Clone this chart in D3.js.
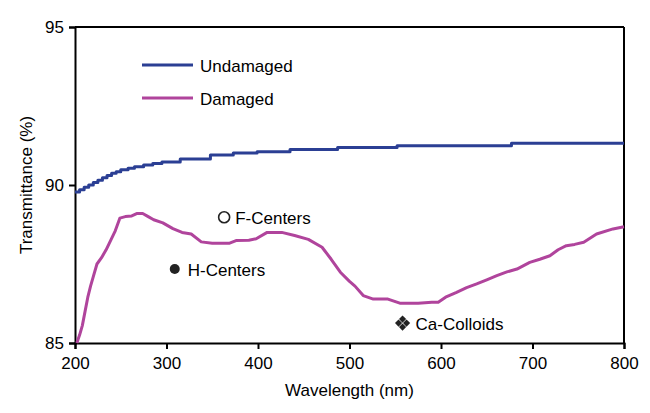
<!DOCTYPE html>
<html>
<head>
<meta charset="utf-8">
<script src="https://cdn.jsdelivr.net/npm/d3@7"></script>
<style>
  html, body { margin: 0; padding: 0; background: #fff; }
  svg { display: block; font-family: "Liberation Sans", Arial, Helvetica, sans-serif; }
</style>
</head>
<body>
<svg id="chart" width="650" height="413"></svg>
<script>
// ---------- data ----------
const xTicks = [200, 300, 400, 500, 600, 700, 800];
const yTicks = [85, 90, 95];
const seriesNames = ["Undamaged", "Damaged"];
const seriesColors = ["#2b3f94", "#b0449c"];

// Undamaged (stepped)
const undamagedWl  = [200, 205, 210, 215, 220, 225, 230, 235, 240, 245, 250, 258, 265, 275, 285, 295, 315, 348, 373, 399, 435, 487, 552, 677, 800];
const undamagedVal = [89.78, 89.85, 89.93, 90.0, 90.08, 90.15, 90.23, 90.3, 90.37, 90.42, 90.48, 90.53, 90.58, 90.63, 90.68, 90.73, 90.82, 90.95, 91.01, 91.05, 91.12, 91.19, 91.24, 91.32, 91.32];

// Damaged
const damagedWl  = [202, 205, 208, 211, 214, 217, 220, 224, 229, 234, 239, 244, 249, 255, 262, 268, 274, 280, 286, 296, 307, 317, 327, 338, 350, 369, 376, 390, 398, 410, 426, 440, 455, 470, 480, 490, 500, 506, 515, 526, 542, 555, 575, 590, 597, 605, 617, 628, 639, 650, 661, 672, 683, 697, 708, 719, 728, 737, 746, 756, 770, 788, 800];
const damagedVal = [85.0, 85.25, 85.55, 86.0, 86.45, 86.8, 87.1, 87.5, 87.7, 87.95, 88.25, 88.55, 88.95, 89.0, 89.02, 89.1, 89.1, 89.0, 88.9, 88.8, 88.62, 88.5, 88.45, 88.2, 88.16, 88.16, 88.24, 88.25, 88.3, 88.5, 88.5, 88.4, 88.28, 88.03, 87.65, 87.24, 86.95, 86.8, 86.5, 86.39, 86.39, 86.26, 86.26, 86.29, 86.29, 86.45, 86.6, 86.75, 86.87, 87.0, 87.13, 87.25, 87.34, 87.55, 87.65, 87.76, 87.95, 88.08, 88.12, 88.19, 88.45, 88.61, 88.68];

// Annotations
const annoLabels = ["F-Centers", "H-Centers", "Ca-Colloids"];
const annoWl     = [363, 309, 558];
const annoVal    = [88.98, 87.34, 85.63];
const annoSymbol = ["open", "filled", "diamonds"];

// ---------- layout ----------
const margin = { left: 75, top: 27, right: 26, bottom: 70 };
const W = 650, H = 413;
const iw = W - margin.left - margin.right;
const ih = H - margin.top - margin.bottom;

const svg = d3.select("#chart");
const g = svg.append("g").attr("transform", `translate(${margin.left},${margin.top})`);

const x = d3.scaleLinear().domain([200, 800]).range([0, iw]);
const y = d3.scaleLinear().domain([85, 95]).range([ih, 0]);

// frame (top & right)
g.append("line").attr("x1", 0).attr("x2", iw).attr("y1", 0).attr("y2", 0)
  .attr("stroke", "#000").attr("stroke-width", 2);
g.append("line").attr("x1", iw).attr("x2", iw).attr("y1", 0).attr("y2", ih)
  .attr("stroke", "#000").attr("stroke-width", 2);

// axes
const xAxis = g.append("g").attr("transform", `translate(0,${ih})`)
  .call(d3.axisBottom(x).tickValues(xTicks).tickSize(6).tickPadding(8).tickFormat(d3.format("d")));
const yAxis = g.append("g")
  .call(d3.axisLeft(y).tickValues(yTicks).tickSize(6).tickPadding(5).tickFormat(d3.format("d")));

[xAxis, yAxis].forEach(a => {
  a.select(".domain").attr("stroke", "#000").attr("stroke-width", 2);
  a.selectAll(".tick line").attr("stroke", "#000").attr("stroke-width", 2);
  a.selectAll(".tick text").attr("fill", "#000").style("font-family", "Liberation Sans, Arial, sans-serif");
});
xAxis.selectAll(".tick text").style("font-size", "17px");
yAxis.selectAll(".tick text").style("font-size", "17px");

// axis titles
svg.append("text")
  .attr("x", margin.left + iw / 2).attr("y", 396)
  .attr("text-anchor", "middle").style("font-size", "17px").attr("fill", "#000")
  .text("Wavelength (nm)");
svg.append("text")
  .attr("transform", `translate(32,${margin.top + ih / 2}) rotate(-90)`)
  .attr("text-anchor", "middle").style("font-size", "17px").attr("fill", "#000")
  .text("Transmittance (%)");

// series
const undamaged = undamagedWl.map((w, i) => [w, undamagedVal[i]]);
const damaged = damagedWl.map((w, i) => [w, damagedVal[i]]);

g.append("path").datum(undamaged)
  .attr("fill", "none").attr("stroke", seriesColors[0]).attr("stroke-width", 3)
  .attr("stroke-linejoin", "round")
  .attr("d", d3.line().x(d => x(d[0])).y(d => y(d[1])).curve(d3.curveStepAfter));

g.append("path").datum(damaged)
  .attr("fill", "none").attr("stroke", seriesColors[1]).attr("stroke-width", 3)
  .attr("stroke-linejoin", "round")
  .attr("d", d3.line().x(d => x(d[0])).y(d => y(d[1])));

// legend
const legend = svg.append("g").attr("transform", "translate(142,65)");
seriesNames.forEach((name, i) => {
  const row = legend.append("g").attr("transform", `translate(0,${i * 33})`);
  row.append("line").attr("x1", 0).attr("x2", 51).attr("y1", 0).attr("y2", 0)
    .attr("stroke", seriesColors[i]).attr("stroke-width", 3);
  row.append("text").attr("x", 58).attr("y", 7).style("font-size", "17px").attr("fill", "#000").text(name);
});

// annotations
annoLabels.forEach((lab, i) => {
  const cx = x(annoWl[i]), cy = y(annoVal[i]);
  const a = g.append("g").attr("transform", `translate(${cx},${cy})`);
  if (annoSymbol[i] === "open") {
    a.append("circle").attr("r", 5.5).attr("fill", "#fff").attr("stroke", "#222").attr("stroke-width", 1.6);
  } else if (annoSymbol[i] === "filled") {
    a.append("circle").attr("r", 5).attr("fill", "#222");
  } else {
    const dia = "M0,-3.6L3.6,0L0,3.6L-3.6,0Z";
    [[0, -4], [4, 0], [0, 4], [-4, 0]].forEach(o => {
      a.append("path").attr("d", dia).attr("transform", `translate(${o[0]},${o[1]})`).attr("fill", "#222");
    });
  }
  a.append("text").attr("x", i === 0 ? 11 : 13).attr("y", 6.5)
    .style("font-size", "17px").attr("fill", "#000").text(lab);
});
</script>
</body>
</html>
